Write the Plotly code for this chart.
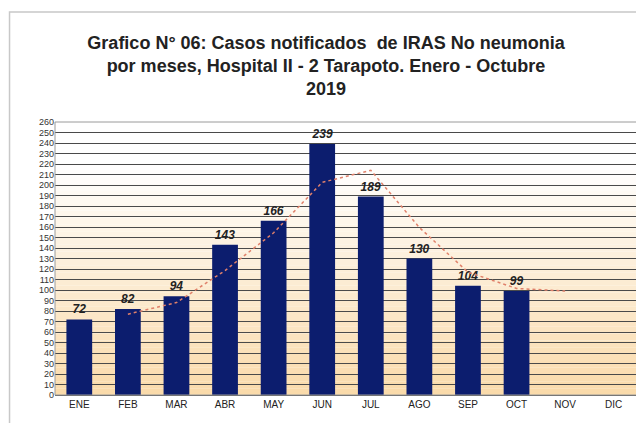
import plotly.graph_objects as go

months = ["ENE", "FEB", "MAR", "ABR", "MAY", "JUN", "JUL", "AGO", "SEP", "OCT", "NOV", "DIC"]
cases = [72, 82, 94, 143, 166, 239, 189, 130, 104, 99, None, None]
moving_avg = [None, 77, 88, 118.5, 154.5, 202.5, 214, 159.5, 117, 101.5, 99, None]
y_ticks = list(range(0, 261, 10))

title_lines = ["Grafico N° 06: Casos notificados  de IRAS No neumonia",
               "por meses, Hospital II - 2 Tarapoto. Enero - Octubre",
               "2019"]

fig = go.Figure()

# gradient background bands (white top -> peach bottom)
shapes = []
n = 40
top = (255, 255, 255)
bot = (250, 218, 170)
for i in range(n):
    y0 = i / n
    y1 = (i + 1) / n
    t = 1 - (i + 0.5) / n  # 0 at top, 1 at bottom
    f = max(0.0, min(1.0, (t - 0.15) / 0.85))
    c = tuple(int(round(top[k] + (bot[k] - top[k]) * f)) for k in range(3))
    shapes.append(dict(type="rect", xref="paper", yref="paper", x0=0, x1=1, y0=y0, y1=y1,
                       fillcolor="rgb(%d,%d,%d)" % c, line=dict(width=0), layer="below"))
# outer chart border
shapes.append(dict(type="rect", xref="paper", yref="paper", x0=-0.078, x1=1.017, y0=-0.11, y1=1.403,
                   line=dict(color="#c8c8c8", width=1.5), fillcolor="rgba(0,0,0,0)", layer="below"))
# plot frame
shapes.append(dict(type="rect", xref="paper", yref="paper", x0=0, x1=1, y0=0, y1=1,
                   line=dict(color="#9a9a9a", width=1), fillcolor="rgba(0,0,0,0)", layer="above"))

fig.add_trace(go.Bar(
    x=months, y=cases,
    marker=dict(color="#0c1d6e", line=dict(width=0)),
    text=[("%d" % v if v is not None else "") for v in cases],
    textposition="outside",
    textfont=dict(family="Liberation Sans", size=12, color="#222222"),
    texttemplate="<b><i>%{text}</i></b>",
    cliponaxis=False,
    width=0.53,
    showlegend=False,
))

fig.add_trace(go.Scatter(
    x=months, y=moving_avg, mode="lines",
    line=dict(color="#e0806a", width=1.5, dash="dot"),
    connectgaps=False, showlegend=False, hoverinfo="skip",
))

fig.update_layout(
    width=636, height=415,
    margin=dict(l=47, r=6, t=114, b=28),
    paper_bgcolor="white",
    plot_bgcolor="rgba(0,0,0,0)",
    shapes=shapes,
    title=dict(text="<br>".join("<b>%s</b>" % s for s in title_lines),
               x=0.5, xanchor="center", y=0.902, yanchor="top",
               font=dict(family="Liberation Sans", size=18, color="#222222")),
    font=dict(family="Liberation Sans"),
    bargap=0.47,
)

fig.update_xaxes(
    categoryorder="array", categoryarray=months,
    tickfont=dict(family="Liberation Sans", size=10, color="#222222"),
    showgrid=False, showline=True, linecolor="#555555", linewidth=1,
    ticks="", range=[-0.5, 11.5],
)
fig.update_yaxes(
    range=[0, 260], tickvals=y_ticks, ticktext=[str(v) for v in y_ticks],
    tickfont=dict(family="Liberation Sans", size=9, color="#333333"),
    showgrid=True, gridcolor="#4a4a4a", gridwidth=1,
    zeroline=False, showline=False, ticks="",
)

fig.write_html("out.html")
